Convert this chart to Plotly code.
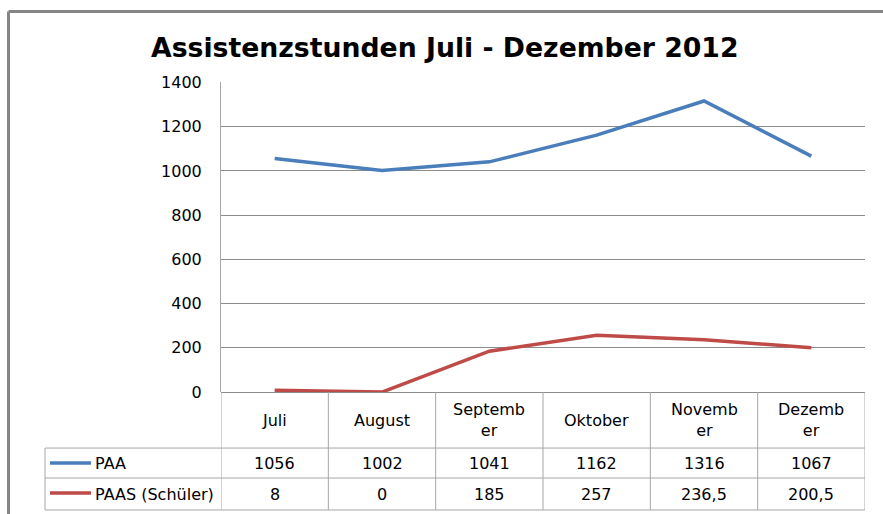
import plotly.graph_objects as go

W, H = 883, 514
title = "Assistenzstunden Juli - Dezember 2012"
months = ["Juli", "August", "September", "Oktober", "November", "Dezember"]
month_labels = ["Juli", "August", "Septemb<br>er", "Oktober", "Novemb<br>er", "Dezemb<br>er"]
paa = [1056, 1002, 1041, 1162, 1316, 1067]
paas = [8, 0, 185, 257, 236.5, 200.5]
paa_text = ["1056", "1002", "1041", "1162", "1316", "1067"]
paas_text = ["8", "0", "185", "257", "236,5", "200,5"]
series_names = ["PAA", "PAAS (Schüler)"]
colors = ["#4A7EBB", "#BE4B48"]
yticks = [0, 200, 400, 600, 800, 1000, 1200, 1400]

FONT = "DejaVu Sans"
def py(p):
    # vertical pixel (from top) -> paper fraction, with empirical screenshot correction
    return 1 - ((p - 8.5) / 0.964) / H

plot_l, plot_r, plot_t, plot_b = 221, 865, 82, 392

fig = go.Figure()
fig.add_trace(go.Scatter(x=months, y=paa, mode="lines", line=dict(color=colors[0], width=3.5), name=series_names[0]))
fig.add_trace(go.Scatter(x=months, y=paas, mode="lines", line=dict(color=colors[1], width=3.5), name=series_names[1]))

grid = "#8C8C8C"
tbl = "#A6A6A6"
shapes = []
# outer border
shapes.append(dict(type="line", xref="paper", yref="paper", x0=8.5/W, x1=1.05, y0=py(11), y1=py(11), line=dict(color="#868686", width=3)))
shapes.append(dict(type="line", xref="paper", yref="paper", x0=8.5/W, x1=8.5/W, y0=py(11), y1=-0.1, line=dict(color="#868686", width=3)))
# table vertical lines (category boundaries through the x axis)
for i in range(7):
    shapes.append(dict(type="line", xref="x", yref="paper", x0=i-0.5, x1=i-0.5, y0=py(392), y1=py(510), line=dict(color=tbl, width=1)))
# left table column edge
shapes.append(dict(type="line", xref="paper", yref="paper", x0=45/W, x1=45/W, y0=py(448), y1=py(510), line=dict(color=tbl, width=1)))
for yy in [448, 478, 510]:
    shapes.append(dict(type="line", xref="paper", yref="paper", x0=45/W, x1=plot_r/W, y0=py(yy), y1=py(yy), line=dict(color=tbl, width=1)))
# legend keys
for yy, c in zip([463, 493], colors):
    shapes.append(dict(type="line", xref="paper", yref="paper", x0=50/W, x1=91/W, y0=py(yy), y1=py(yy), line=dict(color=c, width=3.5)))

ann = []
ann.append(dict(text="<b>" + title + "</b>", xref="paper", yref="paper", x=445/W, y=py(47), showarrow=False,
                font=dict(family=FONT, size=26.7, color="#000"), xanchor="center", yanchor="middle"))
for m, lab in zip(months, month_labels):
    ann.append(dict(text=lab, xref="x", yref="paper", x=m, y=py(420), showarrow=False,
                    font=dict(family=FONT, size=16, color="#000"), xanchor="center", yanchor="middle"))
for m, a, b in zip(months, paa_text, paas_text):
    ann.append(dict(text=a, xref="x", yref="paper", x=m, y=py(463), showarrow=False,
                    font=dict(family=FONT, size=16, color="#000"), xanchor="center", yanchor="middle"))
    ann.append(dict(text=b, xref="x", yref="paper", x=m, y=py(494), showarrow=False,
                    font=dict(family=FONT, size=16, color="#000"), xanchor="center", yanchor="middle"))
for yy, nm in zip([463, 494], series_names):
    ann.append(dict(text=nm, xref="paper", yref="paper", x=93/W, y=py(yy), showarrow=False,
                    font=dict(family=FONT, size=16, color="#000"), xanchor="left", yanchor="middle"))

fig.update_layout(
    width=W, height=H, margin=dict(l=0, r=0, t=0, b=0),
    paper_bgcolor="white", plot_bgcolor="white", showlegend=False,
    shapes=shapes, annotations=ann,
    xaxis=dict(domain=[plot_l/W, plot_r/W], type="category", range=[-0.5, 5.5], showticklabels=False,
               showgrid=False, zeroline=False, showline=False, ticks=""),
    yaxis=dict(domain=[py(plot_b), py(plot_t)], range=[0, 1400], tickvals=yticks,
               showgrid=True, gridcolor=grid, gridwidth=1, zeroline=True, zerolinecolor=grid, zerolinewidth=1,
               showline=True, linecolor=tbl, linewidth=1, ticks="", ticklabelstandoff=15,
               tickfont=dict(family=FONT, size=16, color="#000")),
)
post = (
    "document.body.style.margin='0';document.body.style.overflow='hidden';"
)
fig.write_html("out.html", config=dict(displayModeBar=False), post_script=post)
